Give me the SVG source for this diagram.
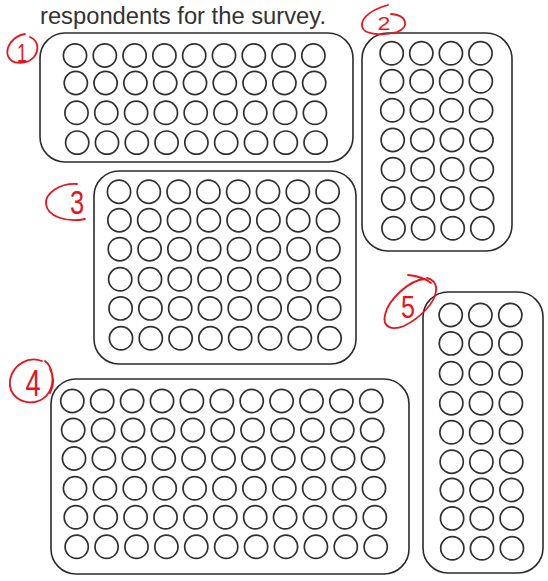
<svg xmlns="http://www.w3.org/2000/svg" xmlns:xlink="http://www.w3.org/1999/xlink" width="548" height="581" viewBox="0 0 548 581">
<style>
.box{fill:none;stroke:#2b2b2b;stroke-width:1.6}
.dot{fill:none;stroke:#303030;stroke-width:1.7}
.title{font-family:"Liberation Sans",Arial,sans-serif;font-size:23.5px;fill:#333333}
.ann{fill:none;stroke:#e8141c;stroke-width:1.8;stroke-linecap:round;stroke-linejoin:round}
.num{font-family:"Liberation Sans",Arial,sans-serif;fill:#e8141c;text-anchor:middle}
</style>
<defs>
<circle id="c" r="11.6" class="dot"/>
<g id="r9"><use href="#c" x="0"/><use href="#c" x="29.8"/><use href="#c" x="59.6"/><use href="#c" x="89.4"/><use href="#c" x="119.2"/><use href="#c" x="149"/><use href="#c" x="178.8"/><use href="#c" x="208.6"/><use href="#c" x="238.4"/></g>
<g id="r4"><use href="#c" x="0"/><use href="#c" x="29.6"/><use href="#c" x="59.2"/><use href="#c" x="88.8"/></g>
<g id="r8"><use href="#c" x="0"/><use href="#c" x="29.8"/><use href="#c" x="59.6"/><use href="#c" x="89.4"/><use href="#c" x="119.2"/><use href="#c" x="149"/><use href="#c" x="178.8"/><use href="#c" x="208.6"/></g>
<g id="r11"><use href="#c" x="0"/><use href="#c" x="29.9"/><use href="#c" x="59.8"/><use href="#c" x="89.7"/><use href="#c" x="119.6"/><use href="#c" x="149.5"/><use href="#c" x="179.4"/><use href="#c" x="209.3"/><use href="#c" x="239.2"/><use href="#c" x="269.1"/><use href="#c" x="299"/></g>
<g id="r3"><use href="#c" x="0"/><use href="#c" x="29.7"/><use href="#c" x="59.6"/></g>
</defs>
<rect width="548" height="581" fill="#ffffff"/>
<text class="title" x="40" y="24" textLength="286" lengthAdjust="spacingAndGlyphs">respondents for the survey.</text>

<g id="box1">
<rect class="box" x="40" y="33" width="313" height="129" rx="25"/>
<use href="#r9" x="75" y="55.5"/>
<use href="#r9" x="75.8" y="83"/>
<use href="#r9" x="76.5" y="112.8"/>
<use href="#r9" x="77.2" y="142.6"/>
</g>

<g id="box2">
<rect class="box" x="362" y="33" width="150" height="218" rx="26"/>
<use href="#r4" x="391.7" y="53.3"/>
<use href="#r4" x="392" y="81.3"/>
<use href="#r4" x="392.3" y="110.3"/>
<use href="#r4" x="392.7" y="140"/>
<use href="#r4" x="393" y="169.3"/>
<use href="#r4" x="393.2" y="198.5"/>
<use href="#r4" x="393.5" y="228.3"/>
</g>

<g id="box3">
<rect class="box" x="94" y="171" width="262" height="193" rx="25"/>
<use href="#r8" x="119" y="191.7"/>
<use href="#r8" x="119.4" y="220.2"/>
<use href="#r8" x="119.8" y="249.2"/>
<use href="#r8" x="120.2" y="279.3"/>
<use href="#r8" x="120.6" y="308.4"/>
<use href="#r8" x="121" y="338.3"/>
</g>

<g id="box4">
<rect class="box" x="51" y="379" width="358" height="195" rx="25"/>
<use href="#r11" x="72.3" y="401"/>
<use href="#r11" x="73.2" y="430"/>
<use href="#r11" x="74" y="458.5"/>
<use href="#r11" x="75" y="488.3"/>
<use href="#r11" x="75.8" y="517.3"/>
<use href="#r11" x="76.7" y="546.8"/>
</g>

<g id="box5">
<rect class="box" x="423" y="292" width="120" height="281" rx="25"/>
<use href="#r3" x="450.7" y="315"/>
<use href="#r3" x="450.9" y="343.4"/>
<use href="#r3" x="451.1" y="373.3"/>
<use href="#r3" x="451.3" y="403.2"/>
<use href="#r3" x="451.5" y="432.3"/>
<use href="#r3" x="451.7" y="461.7"/>
<use href="#r3" x="451.9" y="490"/>
<use href="#r3" x="452.1" y="518.4"/>
<use href="#r3" x="452.3" y="548.3"/>
</g>

<g id="annotations">
<g id="ann1">
<path class="ann" d="M25 34 C13 36 5 47 8 56 C11 65 27 65 34 57 C39 50 39 41 30 37"/>
<text class="num" x="22" y="62" font-size="26" transform="translate(22 62) scale(0.7 1) translate(-22 -62)">1</text>
</g>
<g id="ann2">
<path class="ann" d="M388 5 C373 9 361 17 362 26 C363 35 383 36 397 32 C410 27 407 15 391 14"/>
<text class="num" x="384" y="30" font-size="21" transform="translate(384 30) scale(1.1 0.9) translate(-384 -30)">2</text>
</g>
<g id="ann3">
<path class="ann" d="M77 184 C60 183 45 193 46 204 C47 216 66 223 85 219"/>
<text class="num" x="77" y="214" font-size="30" transform="translate(77 214) scale(0.85 1.1) translate(-77 -214)">3</text>
</g>
<g id="ann4">
<path class="ann" d="M42 361 C29 356 13 364 10 380 C8 396 22 404 35 402 C49 399 54 386 52 374 C51 368 49 364 45 361 M50 369 C54 376 54 385 50 393"/>
<text class="num" x="33" y="396" font-size="32" transform="translate(33 396) scale(0.85 1.15) translate(-33 -396)">4</text>
</g>
<g id="ann5">
<path class="ann" d="M408 275 C418 276 426 279 431 283 M425 279 C409 280 388 300 385 315 C382 327 392 331 404 326 C420 318 435 303 436 291 C437 283 432 279 427 278"/>
<text class="num" x="408" y="318" font-size="28" transform="translate(408 318) scale(0.9 1.1) translate(-408 -318)">5</text>
</g>
</g>
</svg>
